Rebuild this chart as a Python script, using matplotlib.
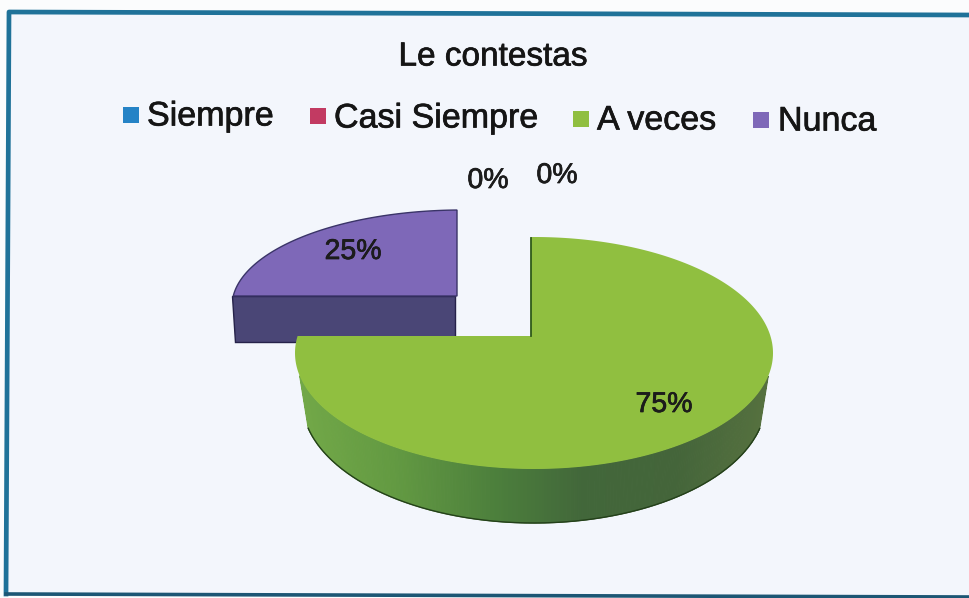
import numpy as np
import matplotlib
matplotlib.use("Agg")
import matplotlib.pyplot as plt
import matplotlib.patheffects as pe
from matplotlib.patches import Polygon, Rectangle
from matplotlib.colors import LinearSegmentedColormap

title = "Le contestas"
categories = ["Siempre", "Casi Siempre", "A veces", "Nunca"]
values = [0, 0, 75, 25]
labels = ["0%", "0%", "75%", "25%"]

colors = ["#2583c6", "#c23a62", "#90bf40", "#7e68b8"]
purple_side = "#4a4676"
bg = "#f3f6fc"
frame = "#1f7299"

plt.rcParams["font.family"] = ["Liberation Sans", "DejaVu Sans"]

fig = plt.figure(figsize=(9.7, 5.98), dpi=100, facecolor="#fbfcfd")
# axes in image pixels, y goes down
ax = fig.add_axes([0, 0, 1, 1])
ax.set_xlim(0, 970)
ax.set_ylim(598, 0)
ax.axis("off")

# the scan is a bit crooked so the frame is not square
ax.add_patch(Polygon([(9, 12), (970, 15), (970, 597), (6, 594)], fc=bg, ec="none"))
ax.plot([970, 9, 6], [15, 12, 594], color=frame, lw=3.4)
ax.plot([6, 970], [594, 597], color="#1c5674", lw=2.6)


def rim(vertex, center, rx, ry, a0, a1, n=200):
    # points on ellipse seen from the vertex, angles clockwise from 12 o'clock
    a = np.radians(np.linspace(a0, a1, n))
    dx, dy = np.sin(a), -np.cos(a)
    ox, oy = (vertex[0] - center[0]) / rx, (vertex[1] - center[1]) / ry
    ux, uy = dx / rx, dy / ry
    A = ux**2 + uy**2
    B = 2 * (ox * ux + oy * uy)
    C = ox**2 + oy**2 - 1
    t = (-B + np.sqrt(B**2 - 4 * A * C)) / (2 * A)
    return np.column_stack([vertex[0] + t * dx, vertex[1] + t * dy])


angles = np.cumsum([0] + values) / sum(values) * 360

# purple slice goes first, the green one overlaps it
v = (457, 296)
pts = rim(v, (462, 306), 230, 96, angles[3], angles[4])
ax.add_patch(Polygon([(232, 296), (455, 296), (455, 342), (235, 342)],
                     fc=purple_side, ec="#26224a", lw=1))
ax.add_patch(Polygon(np.vstack([[v], pts]), fc=colors[3], ec="#3a3468", lw=1))

# green side wall, strips shaded along x
v = (531, 336)
pts = rim(v, (534, 353), 239, 116, angles[2], angles[3], n=500)
low = rim((531, 390), (534, 400), 232, 123, angles[2], angles[3], n=500)
keep = pts[:, 1] > 374
pts_w, low_w = pts[keep], low[keep]
side_cmap = LinearSegmentedColormap.from_list(
    "side", [(0, "#72a848"), (0.2, "#639a42"), (0.42, "#4c7f3c"),
             (0.6, "#42673a"), (0.8, "#44653a"), (1, "#56713f")])
for i in range(len(pts_w) - 1):
    c = side_cmap((pts_w[i, 0] - 297) / (773 - 297))
    ax.add_patch(Polygon([pts_w[i], pts_w[i + 1], low_w[i + 1], low_w[i]],
                         fc=c, ec=c, lw=0.8))
ax.plot(low_w[:, 0], low_w[:, 1], color="#24401a", lw=1)

ax.add_patch(Polygon(np.vstack([[v], pts]), fc=colors[2], ec="none"))
ax.plot([v[0], v[0]], [238, v[1]], color="#2f5a1a", lw=1.3)

# text, the scan makes it heavy
heavy = [pe.withStroke(linewidth=0.5, foreground="#151515")]
ax.text(493, 57, title, fontsize=24, ha="center", va="center", color="#151515",
        path_effects=heavy)

legend_x = [123, 310, 573, 753]
legend_y = [107, 108, 111, 112]
text_x = [147, 334, 597, 778]
text_y = [117, 119, 121, 122]
for name, col, lx, ly, tx, ty in zip(categories, colors, legend_x, legend_y, text_x, text_y):
    ax.add_patch(Rectangle((lx, ly), 16, 16, fc=col, ec="none"))
    ax.text(tx, ty, name, fontsize=24.5, ha="left", va="center", color="#151515",
            path_effects=heavy)

label_x = [488, 557, 664, 353]
label_y = [181, 176, 405, 252]
for lab, x, y in zip(labels, label_x, label_y):
    ax.text(x, y, lab, fontsize=20.5, ha="center", va="center", color="#1c1c1c",
            path_effects=heavy)

fig.savefig("out.png", dpi=100, facecolor=fig.get_facecolor())
